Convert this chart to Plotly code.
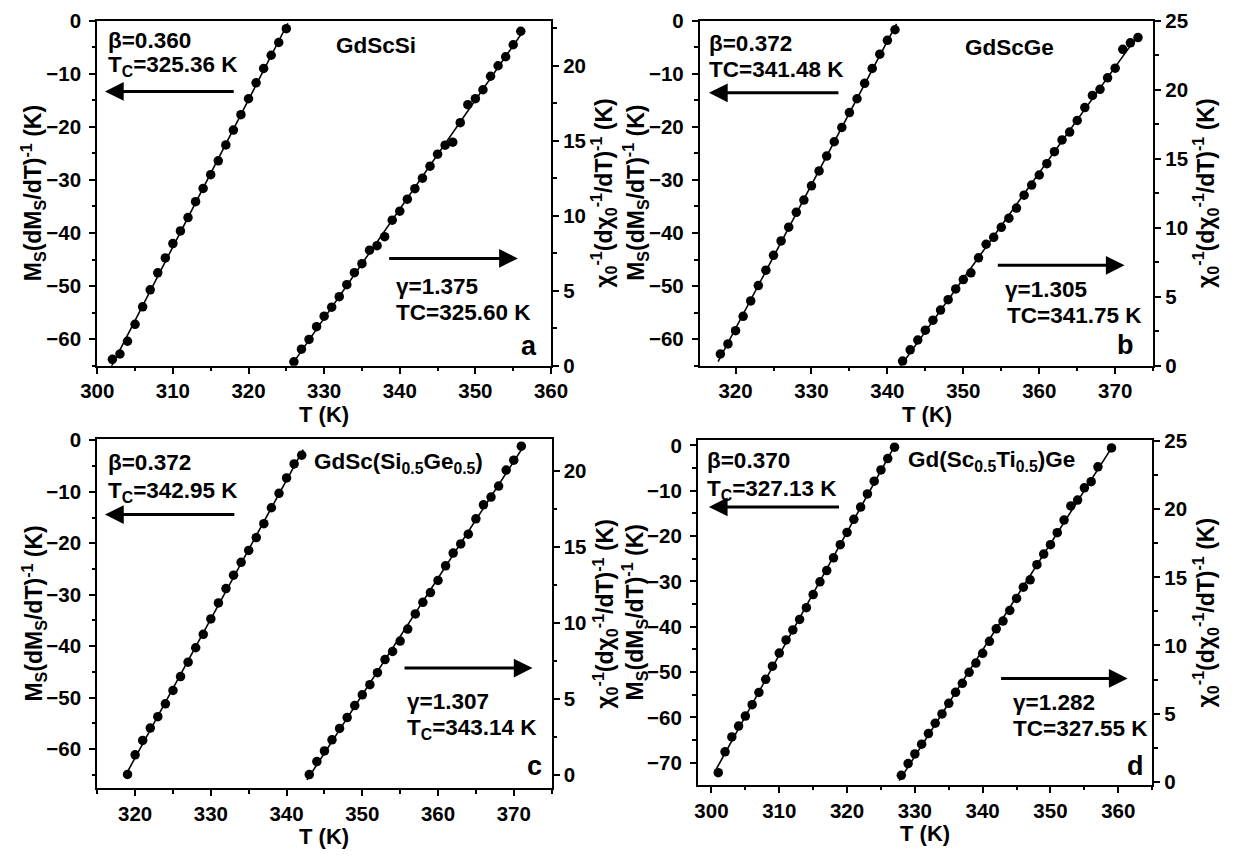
import numpy as np
import plotly.graph_objects as go

# ---------------- data ----------------
# Panel a : GdScSi
a_T_ms = [302, 303, 304, 305, 306, 307, 308, 309, 310, 311, 312, 313, 314, 315, 316, 317, 318, 319, 320, 321, 322, 323, 324, 325]
a_ms = [-63.8, -62.8, -60.4, -57.2, -53.9, -50.7, -47.5, -44.7, -42.0, -39.6, -37.1, -34.1, -31.6, -29.0, -26.4, -23.4,
        -20.6, -17.7, -14.7, -11.7, -9.0, -6.5, -4.1, -1.5]
a_T_chi = [326, 327, 328, 329, 330, 331, 332, 333, 334, 335, 336, 337, 338, 339, 340, 341, 342, 343, 344, 345, 346, 347,
           348, 349, 350, 351, 352, 353, 354, 355, 356]
a_chi = [0.26, 1.1, 1.75, 2.6, 3.3, 3.9, 4.6, 5.4, 6.2, 6.8, 7.7, 8.0, 8.6, 9.7, 10.3, 11.1, 11.8, 12.5, 13.3, 14.1, 14.7,
         14.9, 16.2, 17.4, 17.8, 18.4, 19.3, 20.0, 20.6, 21.4, 22.3]

# Panel b : GdScGe
b_T_ms = [318, 319, 320, 321, 322, 323, 324, 325, 326, 327, 328, 329, 330, 331, 332, 333, 334, 335, 336, 337, 338, 339, 340, 341]
b_ms = [-62.8, -60.9, -58.4, -55.7, -52.8, -49.9, -47.0, -44.2, -41.5, -38.9, -36.1, -33.8, -31.1, -28.3, -25.5, -22.8,
        -20.1, -17.3, -14.7, -11.8, -9.0, -6.3, -3.7, -1.7]
b_T_chi = [342, 343, 344, 345, 346, 347, 348, 349, 350, 351, 352, 353, 354, 355, 356, 357, 358, 359, 360, 361, 362, 363,
           364, 365, 366, 367, 368, 369, 370, 371, 372, 373]
b_chi = [0.33, 1.15, 1.86, 2.57, 3.30, 4.03, 4.78, 5.56, 6.24, 6.73, 7.82, 8.80, 9.30, 10.03, 10.69, 11.42, 12.36, 13.09,
         13.82, 14.64, 15.51, 16.36, 16.93, 17.77, 18.71, 19.59, 20.03, 20.86, 21.56, 22.93, 23.40, 23.78]

# Panel c : GdSc(Si0.5Ge0.5)
c_T_ms = [319, 320, 321, 322, 323, 324, 325, 326, 327, 328, 329, 330, 331, 332, 333, 334, 335, 336, 337, 338, 339, 340, 341, 342]
c_ms = [-64.9, -61.1, -58.3, -55.9, -53.7, -51.2, -48.6, -45.9, -43.1, -40.3, -37.7, -34.7, -31.6, -28.8, -26.2, -23.7,
        -21.4, -18.9, -16.2, -13.1, -10.3, -7.3, -4.6, -2.9]
c_T_chi = [343, 344, 345, 346, 347, 348, 349, 350, 351, 352, 353, 354, 355, 356, 357, 358, 359, 360, 361, 362, 363, 364,
           365, 366, 367, 368, 369, 370, 371]
c_chi = [0.0, 0.86, 1.56, 2.29, 3.04, 3.75, 4.54, 5.25, 5.92, 6.71, 7.57, 8.10, 8.79, 9.58, 10.57, 11.34, 11.98, 12.78,
         13.74, 14.58, 15.18, 15.82, 16.83, 17.75, 18.26, 18.99, 20.04, 20.69, 21.61]

# Panel d : Gd(Sc0.5Ti0.5)Ge
d_T_ms = [301, 302, 303, 304, 305, 306, 307, 308, 309, 310, 311, 312, 313, 314, 315, 316, 317, 318, 319, 320, 321, 322,
          323, 324, 325, 326, 327]
d_ms = [-72.2, -67.6, -64.3, -61.9, -59.7, -57.2, -54.5, -51.6, -48.7, -45.8, -42.9, -40.7, -38.4, -35.8, -32.9, -30.1,
        -27.6, -24.8, -21.9, -19.2, -16.3, -13.6, -10.7, -7.9, -5.4, -2.9, -0.4]
d_T_chi = [328, 329, 330, 331, 332, 333, 334, 335, 336, 337, 338, 339, 340, 341, 342, 343, 344, 345, 346, 347, 348, 349,
           350, 351, 352, 353, 354, 355, 356, 357, 359]
d_chi = [0.47, 1.33, 2.04, 2.75, 3.53, 4.29, 4.97, 5.75, 6.56, 7.22, 8.03, 8.71, 9.42, 10.30, 11.22, 11.79, 12.57, 13.45,
         14.28, 14.82, 15.93, 16.71, 17.40, 18.28, 19.20, 20.24, 20.67, 21.57, 22.02, 23.11, 24.50]

# texts
compounds = ["GdScSi", "GdScGe", "GdSc(Si<sub>0.5</sub>Ge<sub>0.5</sub>)", "Gd(Sc<sub>0.5</sub>Ti<sub>0.5</sub>)Ge"]
beta_txt = ["β=0.360", "β=0.372", "β=0.372", "β=0.370"]
tc_left_txt = ["T<sub>C</sub>=325.36 K", "TC=341.48 K", "T<sub>C</sub>=342.95 K", "T<sub>C</sub>=327.13 K"]
gamma_txt = ["γ=1.375", "γ=1.305", "γ=1.307", "γ=1.282"]
tc_right_txt = ["TC=325.60 K", "TC=341.75 K", "T<sub>C</sub>=343.14 K", "TC=327.55 K"]
letters = ["a", "b", "c", "d"]
x_title = "T (K)"
y_left_title = "M<sub>S</sub>(dM<sub>S</sub>/dT)<sup>-1</sup> (K)"
y_right_title = "χ<sub>0</sub><sup>-1</sup>(dχ<sub>0</sub><sup>-1</sup>/dT)<sup>-1</sup> (K)"

# ---------------- layout geometry ----------------
W, H = 1247, 859
# pixel boxes: left, right, top, bottom
boxes = [(82.5, 549, 10, 364), (702, 1168, 10, 364), (82.5, 549.6, 439, 797.7), (700, 1167, 440.7, 794.3)]
x_ranges = [[300, 360], [315.3, 375], [315, 375], [298, 365]]
yl_ranges = [[-65, 0], [-65, 0], [-67.6, 0.3], [-74.9, 1.1]]
yr_ranges = [[0, 23], [0, 25], [-0.9, 22.1], [-0.24, 25.05]]

# annotation positions in axis-domain fractions
pos = [
    dict(beta=(0.020, 0.944), tc=(0.020, 0.868), larr=(0.017, 0.304, 0.795), comp=(0.614, 0.929),
         rarr=(0.640, 0.927, 0.311), gam=(0.653, 0.230), tcr=(0.653, 0.154), let=(0.951, 0.058)),
    dict(beta=(0.015, 0.934), tc=(0.015, 0.859), larr=(0.020, 0.309, 0.791), comp=(0.682, 0.922),
         rarr=(0.654, 0.937, 0.291), gam=(0.668, 0.220), tcr=(0.674, 0.146), let=(0.940, 0.060)),
    dict(beta=(0.020, 0.932), tc=(0.020, 0.848), larr=(0.017, 0.305, 0.783), comp=(0.664, 0.932),
         rarr=(0.673, 0.958, 0.344), gam=(0.677, 0.249), tcr=(0.677, 0.170), let=(0.962, 0.063)),
    dict(beta=(0.015, 0.941), tc=(0.015, 0.856), larr=(0.024, 0.314, 0.807), comp=(0.646, 0.941),
         rarr=(0.664, 0.946, 0.309), gam=(0.689, 0.238), tcr=(0.689, 0.163), let=(0.963, 0.055)),
]

FONT = "Liberation Sans, Arial, sans-serif"
data = [
    (a_T_ms, a_ms, a_T_chi, a_chi),
    (b_T_ms, b_ms, b_T_chi, b_chi),
    (c_T_ms, c_ms, c_T_chi, c_chi),
    (d_T_ms, d_ms, d_T_chi, d_chi),
]

fig = go.Figure()
annotations = []
layout = {}


def axname(prefix, k):
    return prefix if k == 1 else f"{prefix}{k}"


tickfont = dict(family=FONT, size=20.5, color="black", weight="bold")
xtitlefont = dict(family=FONT, size=22, color="black", weight="bold")
ytitlefont = dict(family=FONT, size=23, color="black", weight="bold")
ANN = 22.5

for i in range(4):
    xi = i + 1
    yl = 2 * i + 1
    yr = 2 * i + 2
    xr_ = axname("x", xi)
    ylr = axname("y", yl)
    yrr = axname("y", yr)
    T1, v1, T2, v2 = data[i]

    # fit lines + data markers
    for T, v, yref in ((T1, v1, ylr), (T2, v2, yrr)):
        p = np.polyfit(T, v, 1)
        xs = [T[0] - 0.3, T[-1] + 0.2]
        fig.add_trace(go.Scatter(x=xs, y=list(np.polyval(p, xs)), mode="lines",
                                 line=dict(color="black", width=1.6), xaxis=xr_, yaxis=yref,
                                 showlegend=False, hoverinfo="skip"))
        fig.add_trace(go.Scatter(x=T, y=v, mode="markers",
                                 marker=dict(color="black", size=9.5, line=dict(width=0)),
                                 xaxis=xr_, yaxis=yref, showlegend=False))

    l, r, t, b = boxes[i]
    xdom = [l / W, r / W]
    ydom = [1 - b / H, 1 - t / H]
    common = dict(showgrid=False, zeroline=False, showline=True, linecolor="black", linewidth=2,
                  ticks="outside", ticklen=6, tickwidth=2, tickcolor="black", tickfont=tickfont)
    layout[axname("xaxis", xi)] = dict(domain=xdom, range=x_ranges[i], anchor=ylr, dtick=10, tick0=0,
                                       mirror=True, minor=dict(ticks="outside", ticklen=3.5, tickwidth=1.5,
                                                               dtick=5, tick0=0, tickcolor="black"),
                                       **common)
    layout[axname("yaxis", yl)] = dict(domain=ydom, range=yl_ranges[i], anchor=xr_, dtick=10, tick0=0,
                                       ticklabelstandoff=4,
                                       minor=dict(ticks="outside", ticklen=3.5, tickwidth=1.5, dtick=5, tick0=0,
                                                  tickcolor="black"), **common)
    layout[axname("yaxis", yr)] = dict(range=yr_ranges[i], anchor=xr_, overlaying=ylr, side="right", dtick=5,
                                       tick0=0, minor=dict(ticks="outside", ticklen=3.5, tickwidth=1.5, dtick=2.5,
                                                           tick0=0, tickcolor="black"), **common)

    xd = f"{xr_} domain"
    yd = f"{ylr} domain"
    P = pos[i]

    def txt(text, xy, anchor="left", size=ANN):
        annotations.append(dict(text=text, x=xy[0], y=xy[1], xref=xd, yref=yd, showarrow=False,
                                xanchor=anchor, yanchor="middle",
                                font=dict(family=FONT, size=size, color="black", weight="bold")))

    txt(beta_txt[i], P["beta"])
    txt(tc_left_txt[i], P["tc"])
    txt(compounds[i], P["comp"], anchor="center")
    txt(gamma_txt[i], P["gam"])
    txt(tc_right_txt[i], P["tcr"])
    txt(letters[i], P["let"], anchor="center", size=27)

    # arrows
    h, tl, yy = P["larr"]
    annotations.append(dict(text="", x=h, y=yy, ax=tl, ay=yy, xref=xd, yref=yd, axref=xd, ayref=yd,
                            showarrow=True, arrowhead=2, arrowsize=1.25, arrowwidth=3, arrowcolor="black"))
    tl2, h2, yy2 = P["rarr"]
    annotations.append(dict(text="", x=h2, y=yy2, ax=tl2, ay=yy2, xref=xd, yref=yd, axref=xd, ayref=yd,
                            showarrow=True, arrowhead=2, arrowsize=1.25, arrowwidth=3, arrowcolor="black"))

    # axis titles
    annotations.append(dict(text=x_title, x=(l + r) / 2 / W, y=1 - (b + 50) / H, xref="paper", yref="paper",
                            showarrow=False, xanchor="center", yanchor="middle", font=xtitlefont))
    annotations.append(dict(text=y_left_title, x=(l - 66) / W, y=1 - (t + b) / 2 / H, xref="paper",
                            yref="paper", showarrow=False, textangle=-90, xanchor="center", yanchor="middle",
                            font=ytitlefont))
    annotations.append(dict(text=y_right_title, x=(r + 54) / W, y=1 - (t + b) / 2 / H, xref="paper",
                            yref="paper", showarrow=False, textangle=-90, xanchor="center", yanchor="middle",
                            font=ytitlefont))

fig.update_layout(width=W, height=H, margin=dict(l=0, r=0, t=0, b=0), paper_bgcolor="white",
                  plot_bgcolor="white", annotations=annotations, showlegend=False, **layout)

fig.write_html("out.html")
